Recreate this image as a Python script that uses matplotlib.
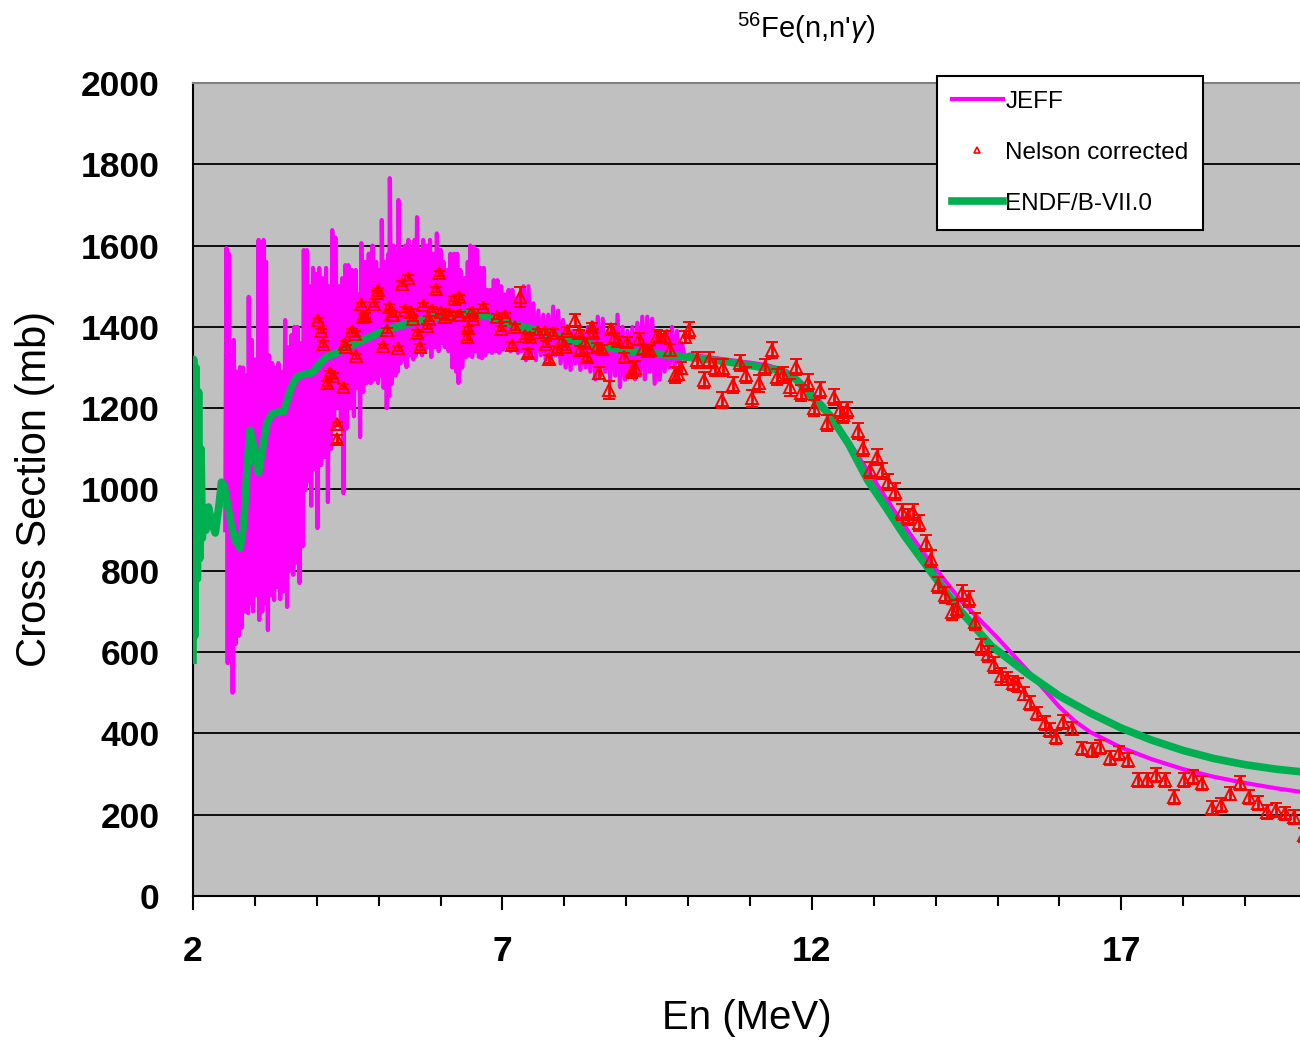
import matplotlib.pyplot as plt
from matplotlib.lines import Line2D
from matplotlib.ticker import MultipleLocator

plt.rcParams['font.family'] = ['Liberation Sans', 'DejaVu Sans']
plt.rcParams['mathtext.fontset'] = 'custom'
plt.rcParams['mathtext.rm'] = 'Liberation Sans'
plt.rcParams['mathtext.it'] = 'Liberation Sans:italic'

# --- JEFF evaluation (mb): resonance structure up to ~10 MeV, smooth above ---
jeff_e = [
    2.52, 2.54, 2.56, 2.58, 2.60, 2.62, 2.64, 2.66, 2.69, 2.71,
    2.74, 2.76, 2.79, 2.81, 2.84, 2.86, 2.89, 2.90, 2.92, 2.95,
    2.97, 3.00, 3.03, 3.06, 3.07, 3.09, 3.12, 3.14, 3.16, 3.18,
    3.21, 3.23, 3.26, 3.28, 3.31, 3.33, 3.36, 3.38, 3.41, 3.43,
    3.46, 3.49, 3.52, 3.54, 3.57, 3.59, 3.62, 3.64, 3.67, 3.69,
    3.72, 3.74, 3.77, 3.79, 3.82, 3.84, 3.86, 3.89, 3.91, 3.94,
    3.97, 3.99, 4.01, 4.04, 4.07, 4.09, 4.12, 4.15, 4.18, 4.20,
    4.23, 4.25, 4.28, 4.30, 4.33, 4.36, 4.39, 4.41, 4.43, 4.46,
    4.48, 4.51, 4.54, 4.57, 4.60, 4.63, 4.66, 4.68, 4.70, 4.72,
    4.75, 4.78, 4.81, 4.84, 4.87, 4.90, 4.93, 4.96, 4.99, 5.02,
    5.04, 5.05, 5.08, 5.11, 5.13, 5.16, 5.17, 5.18, 5.21, 5.24,
    5.27, 5.30, 5.31, 5.32, 5.35, 5.38, 5.41, 5.43, 5.45, 5.48,
    5.51, 5.54, 5.56, 5.58, 5.60, 5.62, 5.65, 5.68, 5.70, 5.72,
    5.75, 5.78, 5.81, 5.83, 5.85, 5.88, 5.91, 5.94, 5.97, 6.00,
    6.03, 6.05, 6.07, 6.10, 6.13, 6.16, 6.19, 6.22, 6.25, 6.27,
    6.29, 6.32, 6.35, 6.38, 6.41, 6.44, 6.46, 6.48, 6.51, 6.54,
    6.57, 6.59, 6.62, 6.65, 6.67, 6.70, 6.72,
    6.75, 6.78, 6.80, 6.83, 6.86, 6.89, 6.92, 6.95, 6.98, 7.01,
    7.04, 7.07, 7.10, 7.13, 7.16, 7.19, 7.22, 7.25, 7.28, 7.31,
    7.34, 7.38, 7.42, 7.46, 7.50, 7.54, 7.58, 7.62, 7.66, 7.70,
    7.74, 7.78, 7.82, 7.86, 7.90, 7.94, 7.98, 8.02, 8.06, 8.10,
    8.14, 8.18, 8.22, 8.26, 8.30, 8.34, 8.38, 8.42, 8.46, 8.50,
    8.54, 8.58, 8.62, 8.66, 8.70, 8.74, 8.78, 8.82, 8.86, 8.90,
    8.94, 8.98, 9.02, 9.06, 9.10, 9.14, 9.18, 9.22, 9.26, 9.30,
    9.34, 9.38, 9.42, 9.46, 9.50, 9.54, 9.58, 9.62, 9.66, 9.70,
    9.74, 9.78, 9.82, 9.86, 9.90, 9.95, 10.02,
    10.10, 10.50, 11.00, 11.30, 11.60, 11.80, 12.00, 12.20, 12.40, 12.60,
    12.80, 13.00, 13.20, 13.40, 13.60, 13.80, 14.00, 14.40, 15.00, 15.50,
    16.00, 16.25, 16.50, 17.00, 17.50, 18.00, 18.50, 19.00, 19.50, 20.00,
]
jeff_xs = [
    900, 1594, 573, 1580, 620, 1330, 500, 1368, 620, 1290,
    640, 1301, 660, 1300, 700, 1280, 696, 1474, 720, 1368,
    700, 1320, 740, 1614, 679, 1400, 700, 1614, 720, 1560,
    654, 1330, 740, 1311, 728, 1300, 760, 1311, 730, 1290,
    750, 1417, 711, 1350, 800, 1380, 790, 1400, 820, 1400,
    770, 1360, 860, 1589, 999, 1589, 1020, 1500, 960, 1545,
    1050, 1530, 905, 1545, 1060, 1520, 1080, 1545, 969, 1500,
    1100, 1638, 1150, 1620, 1200, 1500, 1150, 1520, 991, 1552,
    1150, 1552, 1200, 1540, 1180, 1540, 1250, 1480, 1129, 1606,
    1240, 1560, 1262, 1580, 1262, 1600, 1270, 1560, 1262, 1540,
    1280, 1663, 1250, 1560, 1200, 1580, 1230, 1766, 1260, 1600,
    1280, 1580, 1290, 1712, 1310, 1590, 1320, 1600, 1301, 1614,
    1330, 1590, 1320, 1614, 1330, 1670, 1340, 1590, 1330, 1614,
    1340, 1600, 1350, 1614, 1326, 1580, 1350, 1630, 1340, 1590,
    1360, 1560, 1350, 1540, 1340, 1580, 1300, 1580, 1290, 1580,
    1262, 1540, 1300, 1520, 1326, 1560, 1330, 1600, 1326, 1597,
    1340, 1590, 1326, 1545, 1323, 1545, 1330,
    1491, 1340, 1491, 1336, 1515, 1340, 1515, 1336, 1500, 1345,
    1480, 1350, 1491, 1340, 1491, 1345, 1470, 1336, 1480, 1340,
    1500, 1318, 1500, 1330, 1458, 1318, 1440, 1330, 1430, 1320,
    1430, 1318, 1450, 1330, 1440, 1310, 1417, 1300, 1400, 1294,
    1390, 1310, 1380, 1294, 1390, 1300, 1400, 1290, 1410, 1271,
    1425, 1280, 1420, 1290, 1390, 1271, 1400, 1280, 1430, 1252,
    1400, 1270, 1390, 1290, 1400, 1271, 1410, 1280, 1425, 1271,
    1425, 1290, 1420, 1260, 1390, 1270, 1380, 1290, 1390, 1300,
    1400, 1300, 1390, 1310, 1360, 1320, 1332,
    1330, 1322, 1312, 1305, 1290, 1268, 1238, 1205, 1162, 1118,
    1070, 1025, 978, 932, 888, 845, 805, 728, 635, 552,
    465, 430, 403, 365, 336, 312, 293, 278, 265, 254,
]

# --- ENDF/B-VII.0 (mb) ---
endf_e = [
    2.00, 2.01, 2.03, 2.05, 2.07, 2.09, 2.11, 2.13, 2.15, 2.18,
    2.21, 2.25, 2.30, 2.36, 2.42, 2.46, 2.50, 2.56, 2.62, 2.68,
    2.76, 2.82, 2.87, 2.92, 2.96, 3.01, 3.06, 3.12, 3.19, 3.27,
    3.35, 3.46, 3.52, 3.57, 3.63, 3.68, 3.78, 3.89, 3.94, 4.00,
    4.08, 4.16, 4.24, 4.32, 4.50, 4.75, 5.10, 5.56, 6.09, 6.50,
    6.80, 7.01, 7.55, 8.09, 8.63, 9.17, 9.71, 10.14, 10.60, 11.00,
    11.48, 11.75, 12.00, 12.29, 12.60, 12.90, 13.20, 13.50, 13.90, 14.39,
    14.90, 15.50, 16.00, 16.50, 17.00, 17.50, 18.00, 18.50, 19.00, 19.50,
    20.00,
]
endf_xs = [
    580, 1320, 640, 1300, 780, 1240, 830, 1100, 880, 950,
    900, 957, 920, 893, 960, 1018, 1010, 960, 910, 875,
    856, 920, 1050, 1146, 1120, 1070, 1041, 1100, 1163, 1185,
    1190, 1192, 1220, 1245, 1265, 1277, 1283, 1286, 1290, 1301,
    1315, 1326, 1331, 1336, 1350, 1368, 1392, 1412, 1429, 1433,
    1425, 1412, 1392, 1368, 1351, 1338, 1330, 1323, 1315, 1305,
    1294, 1270, 1228, 1183, 1110, 1023, 955, 885, 802, 703,
    615, 545, 492, 450, 413, 383, 358, 338, 323, 312,
    304,
]

# --- Nelson (corrected) measurement with uncertainties (mb) ---
nelson_e = [
    4.02, 4.07, 4.10, 4.17, 4.22, 4.26, 4.32, 4.33, 4.42, 4.46,
    4.48, 4.57, 4.62, 4.63, 4.72, 4.74, 4.78, 4.92, 4.97, 4.99,
    5.07, 5.13, 5.16, 5.20, 5.23, 5.32, 5.37, 5.42, 5.48, 5.53,
    5.56, 5.62, 5.66, 5.72, 5.78, 5.81, 5.86, 5.93, 5.98, 6.00,
    6.07, 6.13, 6.22, 6.28, 6.30, 6.32, 6.42, 6.45, 6.50, 6.53,
    6.69, 6.91, 6.97, 7.04, 7.16, 7.21, 7.28, 7.36, 7.42, 7.45,
    7.58, 7.68, 7.71, 7.76, 7.82, 7.88, 7.97, 8.03, 8.05, 8.17,
    8.23, 8.26, 8.33, 8.36, 8.44, 8.47, 8.52, 8.56, 8.61, 8.72,
    8.76, 8.81, 8.86, 8.97, 9.01, 9.09, 9.14, 9.21, 9.27, 9.35,
    9.39, 9.49, 9.55, 9.63, 9.71, 9.79, 9.84, 9.89, 9.95, 10.02,
    10.14, 10.25, 10.34, 10.43, 10.54, 10.57, 10.73, 10.84, 10.93, 11.04,
    11.15, 11.24, 11.35, 11.43, 11.54, 11.64, 11.74, 11.83, 11.94, 12.04,
    12.13, 12.24, 12.35, 12.45, 12.51, 12.56, 12.74, 12.83, 12.94, 13.05,
    13.14, 13.23, 13.34, 13.45, 13.56, 13.64, 13.73, 13.84, 13.93, 14.04,
    14.15, 14.26, 14.34, 14.43, 14.54, 14.63, 14.74, 14.84, 14.94, 15.05,
    15.16, 15.25, 15.33, 15.42, 15.52, 15.63, 15.76, 15.84, 15.94, 16.06,
    16.21, 16.37, 16.52, 16.65, 16.81, 16.96, 17.11, 17.27, 17.41, 17.56,
    17.70, 17.85, 18.01, 18.16, 18.30, 18.46, 18.61, 18.76, 18.91, 19.06,
    19.21, 19.36, 19.50, 19.64, 19.79, 19.95,
]
nelson_xs = [
    1417, 1390, 1358, 1261, 1286, 1280, 1161, 1125, 1253, 1358,
    1350, 1390, 1383, 1328, 1456, 1424, 1427, 1456, 1483, 1490,
    1353, 1392, 1450, 1432, 1430, 1347, 1506, 1442, 1521, 1437,
    1420, 1385, 1350, 1454, 1402, 1420, 1442, 1493, 1532, 1437,
    1424, 1432, 1469, 1430, 1473, 1430, 1376, 1397, 1437, 1420,
    1450, 1425, 1395, 1428, 1355, 1400, 1474, 1378, 1335, 1376,
    1388, 1387, 1358, 1322, 1386, 1345, 1366, 1350, 1391, 1417,
    1384, 1343, 1360, 1327, 1400, 1385, 1350, 1286, 1345, 1245,
    1396, 1373, 1366, 1325, 1362, 1294, 1300, 1370, 1345, 1340,
    1343, 1378, 1375, 1375, 1343, 1282, 1285, 1298, 1376, 1392,
    1318, 1270, 1318, 1300, 1220, 1300, 1257, 1311, 1282, 1224,
    1261, 1302, 1343, 1277, 1282, 1251, 1302, 1237, 1263, 1200,
    1245, 1163, 1228, 1196, 1183, 1196, 1144, 1103, 1048, 1080,
    1046, 1019, 995, 945, 933, 945, 918, 868, 830, 765,
    740, 699, 707, 745, 730, 675, 613, 595, 568, 540,
    535, 523, 519, 498, 474, 449, 425, 408, 392, 429,
    412, 363, 359, 367, 339, 351, 335, 285, 285, 298,
    285, 244, 285, 293, 277, 216, 224, 252, 277, 244,
    228, 207, 211, 203, 195, 150,
]
nelson_err = [
    6, 6, 8, 6, 6, 6, 6, 10, 6, 8,
    6, 6, 6, 6, 6, 6, 6, 6, 6, 6,
    6, 6, 6, 6, 6, 6, 6, 6, 6, 6,
    6, 8, 8, 6, 6, 6, 6, 6, 6, 6,
    6, 6, 6, 6, 6, 6, 8, 6, 6, 6,
    6, 6, 6, 6, 8, 8, 25, 8, 10, 8,
    8, 8, 8, 10, 8, 8, 8, 8, 8, 15,
    8, 10, 10, 10, 10, 10, 10, 15, 10, 22,
    12, 12, 12, 12, 12, 20, 15, 15, 12, 12,
    12, 15, 15, 15, 15, 20, 15, 15, 15, 20,
    20, 20, 20, 20, 20, 20, 20, 20, 20, 20,
    20, 20, 20, 20, 20, 20, 20, 20, 20, 20,
    20, 20, 20, 20, 20, 20, 20, 20, 20, 20,
    20, 20, 20, 20, 20, 20, 20, 20, 20, 20,
    20, 20, 20, 20, 20, 20, 20, 20, 20, 20,
    17, 17, 17, 17, 17, 17, 17, 17, 17, 17,
    17, 17, 17, 17, 17, 17, 17, 17, 17, 17,
    17, 17, 17, 17, 17, 17, 17, 17, 17, 17,
    17, 17, 17, 17, 17, 17,
]

JEFF_COLOR = '#FF00FF'
ENDF_COLOR = '#00B050'
EXP_COLOR = '#FF0000'

fig = plt.figure(figsize=(13, 10.4), dpi=100)
ax = fig.add_axes([193 / 1300, 144 / 1040, 1114 / 1300, 813 / 1040])
ax.set_facecolor('#C0C0C0')

ax.plot(jeff_e, jeff_xs, color=JEFF_COLOR, lw=3, zorder=2)
ax.plot(endf_e, endf_xs, color=ENDF_COLOR, lw=5.5, zorder=3)
ax.errorbar(nelson_e, nelson_xs, yerr=nelson_err, fmt='^', ms=8,
            mfc='none', mec=EXP_COLOR, mew=1.4, ecolor=EXP_COLOR,
            elinewidth=2, capsize=4.5, capthick=2, zorder=4)

# axes, grid and ticks
ax.set_xlim(2, 20)
ax.set_ylim(0, 2000)
ax.set_xticks([2, 7, 12, 17])
ax.xaxis.set_minor_locator(MultipleLocator(1))
ax.set_yticks(range(0, 2001, 200))
ax.yaxis.grid(True, color='black', linewidth=1.3)
ax.set_axisbelow(True)
ax.tick_params(axis='y', length=0, pad=24, labelsize=25.5)
ax.tick_params(axis='x', which='major', direction='out', length=10,
               width=1.5, pad=18, labelsize=25.5)
ax.tick_params(axis='x', which='minor', direction='out', length=7, width=1.5)
for lab in ax.get_xticklabels() + ax.get_yticklabels():
    lab.set_fontweight('bold')

ax.spines['left'].set_color('black')
ax.spines['left'].set_linewidth(1.5)
ax.spines['bottom'].set_color('black')
ax.spines['bottom'].set_linewidth(1.5)
ax.spines['top'].set_color('#808080')
ax.spines['top'].set_linewidth(1.5)
ax.spines['right'].set_visible(False)

# legend
handles = [
    Line2D([], [], color=JEFF_COLOR, lw=3),
    Line2D([], [], ls='none', marker='^', ms=5, mfc='none',
           mec=EXP_COLOR, mew=1.2),
    Line2D([], [], color=ENDF_COLOR, lw=5.5),
]
leg = ax.legend(handles, ['JEFF', 'Nelson corrected', 'ENDF/B-VII.0'],
                loc='upper left', bbox_to_anchor=(0.668, 1.0086),
                borderaxespad=0, frameon=True, fancybox=False,
                edgecolor='black', framealpha=1, fontsize=17.5,
                handlelength=2.1, handletextpad=0.1, labelspacing=1.2,
                borderpad=0.6)
leg.get_frame().set_linewidth(1.5)
leg.set_zorder(10)

# titles
fig.text(806 / 1300, 1 - 28 / 1040, r"$^{56}$Fe(n,n'$\gamma$)",
         ha='center', va='center', fontsize=21)
fig.text(747 / 1300, 1 - 1018 / 1040, 'En (MeV)',
         ha='center', va='center', fontsize=29)
fig.text(35 / 1300, 1 - 489 / 1040, 'Cross Section (mb)', rotation=90,
         ha='center', va='center', fontsize=30)

fig.savefig('out.png', dpi=100, facecolor='white')
